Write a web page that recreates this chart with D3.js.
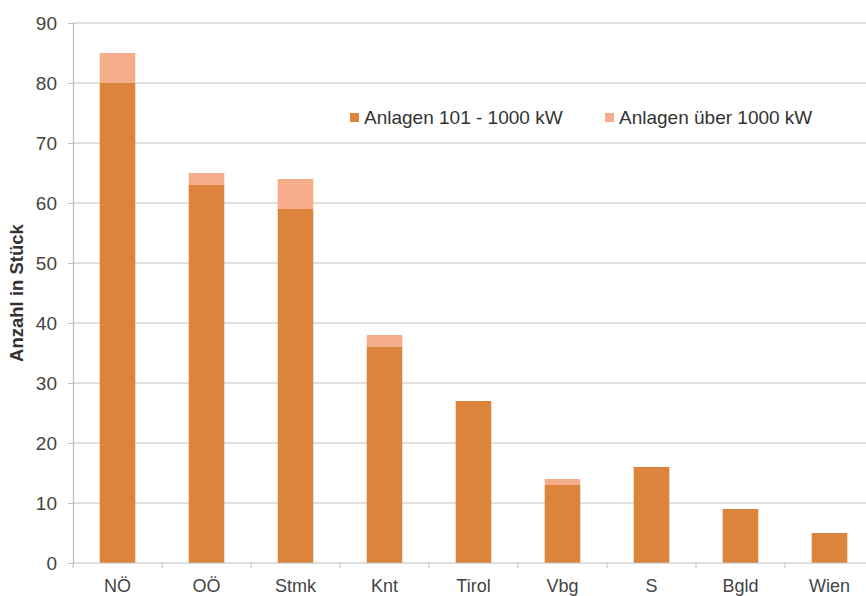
<!DOCTYPE html>
<html>
<head>
<meta charset="utf-8">
<script src="https://cdn.jsdelivr.net/npm/d3@7"></script>
<style>
  body { margin: 0; background: #fff; }
  text { font-family: "Liberation Sans", Arial, sans-serif; }
</style>
</head>
<body>
<div id="chart"></div>
<script>
const regions = ["NÖ", "OÖ", "Stmk", "Knt", "Tirol", "Vbg", "S", "Bgld", "Wien"]
const mid = [80, 63, 59, 36, 27, 13, 16, 9, 5]
const big = [5, 2, 5, 2, 0, 1, 0, 0, 0]
const seriesNames = ["Anlagen 101 - 1000 kW", "Anlagen über 1000 kW"]
const yTicks = [0, 10, 20, 30, 40, 50, 60, 70, 80, 90]

const colors = ["#dc843c", "#f6ae8a"]

const width = 866
const height = 596
const margins = { top: 23, right: -8, bottom: 33, left: 73 }

const svg = d3.select("#chart").append("svg")
    .attr("width", width)
    .attr("height", height)

const data = regions.map((r, i) => ({ region: r, mid: mid[i], big: big[i] }))
const stacked = d3.stack().keys(["mid", "big"])(data)

const xScale = d3.scaleBand()
    .domain(regions)
    .range([margins.left, width - margins.right])
    .paddingInner(0.6)
    .paddingOuter(0.3)

const yScale = d3.scaleLinear()
    .domain([0, 90])
    .range([height - margins.bottom, margins.top])

// gridlines
svg.append("g")
    .selectAll("line")
    .data(yTicks.filter(d => d > 0))
    .join("line")
    .attr("x1", margins.left)
    .attr("x2", width)
    .attr("y1", d => yScale(d))
    .attr("y2", d => yScale(d))
    .attr("stroke", "#d6d6d6")
    .attr("stroke-width", 1.5)

// bars
svg.append("g")
    .selectAll("g")
    .data(stacked)
    .join("g")
    .attr("fill", (d, i) => colors[i])
    .selectAll("rect")
    .data(d => d)
    .join("rect")
    .attr("x", d => xScale(d.data.region))
    .attr("width", xScale.bandwidth())
    .attr("y", d => yScale(d[1]))
    .attr("height", d => yScale(d[0]) - yScale(d[1]))

// y axis
const yAxis = svg.append("g")
    .attr("transform", `translate(${margins.left},0)`)
    .call(d3.axisLeft(yScale).tickValues(yTicks).tickSize(5).tickPadding(11))
yAxis.select(".domain").attr("stroke", "#bdbdbd").attr("stroke-width", 1.2)
yAxis.selectAll(".tick line").attr("stroke", "#bdbdbd")
yAxis.selectAll(".tick text")
    .attr("fill", "#444")
    .attr("font-size", "19px")

// x axis
const step = xScale.step()
const bandEdges = d3.range(regions.length + 1).map(i => margins.left + i * step)
const xAxis = svg.append("g")
    .attr("transform", `translate(0,${yScale(0)})`)
xAxis.append("line")
    .attr("x1", margins.left)
    .attr("x2", width)
    .attr("stroke", "#bdbdbd")
    .attr("stroke-width", 1.2)
xAxis.selectAll(".edge")
    .data(bandEdges)
    .join("line")
    .attr("class", "edge")
    .attr("x1", d => d)
    .attr("x2", d => d)
    .attr("y1", 0)
    .attr("y2", 5)
    .attr("stroke", "#bdbdbd")
xAxis.selectAll(".lbl")
    .data(regions)
    .join("text")
    .attr("class", "lbl")
    .attr("x", d => xScale(d) + xScale.bandwidth() / 2)
    .attr("y", 29)
    .attr("text-anchor", "middle")
    .attr("fill", "#444")
    .attr("font-size", "18px")
    .text(d => d)

// y title
svg.append("text")
    .attr("transform", `translate(23,${yScale(45)}) rotate(-90)`)
    .attr("text-anchor", "middle")
    .attr("font-size", "18.5px")
    .attr("font-weight", "bold")
    .attr("fill", "#333")
    .text("Anzahl in Stück")

// legend
const legendX = [350, 605]
const legend = svg.append("g")
    .selectAll("g")
    .data(seriesNames)
    .join("g")
    .attr("transform", (d, i) => `translate(${legendX[i]},117)`)
legend.append("rect")
    .attr("x", 0)
    .attr("y", -4)
    .attr("width", 9)
    .attr("height", 9)
    .attr("fill", (d, i) => colors[i])
legend.append("text")
    .attr("x", 14)
    .attr("y", 7)
    .attr("font-size", "19px")
    .attr("fill", "#333")
    .text(d => d)
</script>
</body>
</html>
